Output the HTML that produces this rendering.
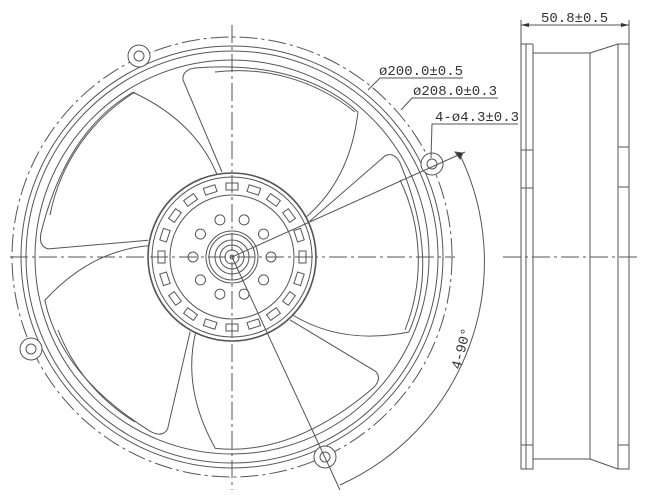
<!DOCTYPE html>
<html><head><meta charset="utf-8"><style>
html,body{margin:0;padding:0;background:#fff;}
svg{display:block;}
text{font-family:"Liberation Mono","DejaVu Sans Mono",monospace;font-size:14px;fill:#333;}
</style></head><body>
<svg width="650" height="500" viewBox="0 0 650 500" xmlns="http://www.w3.org/2000/svg">
<defs>
<circle id="ho" cx="232" cy="218" r="5" fill="none" stroke="#555"/>
</defs>
<g fill="none" stroke="#555" stroke-width="1">
<line x1="10" y1="257" x2="455" y2="257" stroke-dasharray="18,4,3,4"/>
<line x1="232" y1="25" x2="232" y2="490" stroke-dasharray="18,4,3,4"/>
<circle cx="232" cy="257" r="220" stroke-dasharray="18,4,3,4"/>
<circle cx="232" cy="257" r="211"/>
<circle cx="232" cy="257" r="206"/>
<circle cx="232" cy="257" r="197"/>
<g fill="#fff">
<circle cx="139" cy="56" r="11"/><circle cx="139" cy="56" r="5"/>
<circle cx="31" cy="349" r="11"/><circle cx="31" cy="349" r="5"/>
<circle cx="325" cy="457" r="11"/><circle cx="325" cy="457" r="5"/>
<circle cx="432" cy="164" r="11"/><circle cx="432" cy="164" r="5"/>
</g>
<g id="bl">
<path d="M222,172 Q200,120 183,80 Q182,70 195,68 Q300,60 358,112 Q350,180 305,218"/>
</g>
<use href="#bl" transform="rotate(72 232 257)"/>
<use href="#bl" transform="rotate(144 232 257)"/>
<use href="#bl" transform="rotate(216 232 257)"/>
<use href="#bl" transform="rotate(288 232 257)"/>
<path d="M50,215 A187,187 0 0 1 135,92"/>
<path d="M58,330 A187,187 0 0 0 135,422"/>
<path d="M400,180 A187,187 0 0 1 405,330"/>
<path d="M215,72 A187,187 0 0 1 355,112"/>
<circle cx="232" cy="257" r="84" fill="#fff" stroke-width="1.6"/>
<circle cx="232" cy="257" r="80"/>
<circle cx="232" cy="257" r="62"/>
<line x1="150" y1="257" x2="314" y2="257" stroke-dasharray="18,4,3,4"/>
<line x1="232" y1="175" x2="232" y2="340" stroke-dasharray="18,4,3,4"/>
<g id="rs"><rect x="226" y="183" width="12" height="7"/></g>
<use href="#rs" transform="rotate(18 232 257)"/><use href="#rs" transform="rotate(36 232 257)"/>
<use href="#rs" transform="rotate(54 232 257)"/><use href="#rs" transform="rotate(72 232 257)"/>
<use href="#rs" transform="rotate(90 232 257)"/><use href="#rs" transform="rotate(108 232 257)"/>
<use href="#rs" transform="rotate(126 232 257)"/><use href="#rs" transform="rotate(144 232 257)"/>
<use href="#rs" transform="rotate(162 232 257)"/><use href="#rs" transform="rotate(180 232 257)"/>
<use href="#rs" transform="rotate(198 232 257)"/><use href="#rs" transform="rotate(216 232 257)"/>
<use href="#rs" transform="rotate(234 232 257)"/><use href="#rs" transform="rotate(252 232 257)"/>
<use href="#rs" transform="rotate(270 232 257)"/><use href="#rs" transform="rotate(288 232 257)"/>
<use href="#rs" transform="rotate(306 232 257)"/><use href="#rs" transform="rotate(324 232 257)"/>
<use href="#rs" transform="rotate(342 232 257)"/>
<use href="#ho" transform="rotate(18 232 257)"/><use href="#ho" transform="rotate(-18 232 257)"/>
<use href="#ho" transform="rotate(54 232 257)"/><use href="#ho" transform="rotate(-54 232 257)"/>
<use href="#ho" transform="rotate(90 232 257)"/><use href="#ho" transform="rotate(-90 232 257)"/>
<use href="#ho" transform="rotate(126 232 257)"/><use href="#ho" transform="rotate(-126 232 257)"/>
<use href="#ho" transform="rotate(162 232 257)"/><use href="#ho" transform="rotate(-162 232 257)"/>
<circle cx="232" cy="257" r="26"/>
<circle cx="232" cy="257" r="23"/>
<circle cx="232" cy="257" r="17"/>
<circle cx="232" cy="257" r="12"/>
<circle cx="232" cy="257" r="7"/>
<circle cx="232" cy="257" r="2"/>
<line x1="232" y1="257" x2="465" y2="152"/>
<line x1="232" y1="257" x2="340" y2="490"/>
<path d="M460,155 A245,245 0 0 1 340,485"/>
<path d="M455,152 l5,7 l3,-6 z" fill="#333"/>
<polyline points="368,90 380,78 463,78"/>
<polyline points="401,110 412,98 498,98"/>
<polyline points="431,158 432,124 518,124"/>
<line x1="521" y1="20" x2="521" y2="469"/>
<line x1="629" y1="20" x2="629" y2="469"/>
<line x1="521" y1="25" x2="629" y2="25"/>
<rect x="521" y="44" width="5" height="425"/>
<line x1="526" y1="44" x2="533" y2="44"/><line x1="533" y1="44" x2="533" y2="469"/>
<line x1="533" y1="53" x2="590" y2="53"/><line x1="533" y1="459" x2="590" y2="459"/>
<line x1="590" y1="53" x2="590" y2="459"/>
<line x1="590" y1="53" x2="618" y2="44"/><line x1="590" y1="459" x2="618" y2="469"/>
<rect x="618" y="44" width="11" height="425"/>
<rect x="521" y="150" width="12" height="38"/><rect x="618" y="147" width="11" height="40"/>
<rect x="521" y="445" width="12" height="24"/><rect x="618" y="445" width="11" height="24"/>
<line x1="503" y1="257" x2="640" y2="257" stroke-dasharray="18,4,3,4"/>
</g>
<path d="M521,25 l8,-2 v4 z M629,25 l-8,-2 v4 z" fill="#333"/>
<text x="379" y="75">ø200.0±0.5</text>
<text x="413" y="95">ø208.0±0.3</text>
<text x="435" y="121">4-ø4.3±0.3</text>
<text x="541" y="22">50.8±0.5</text>
<text x="0" y="0" transform="translate(460,370) rotate(-75)">4-90°</text>
</svg>
</body></html>
